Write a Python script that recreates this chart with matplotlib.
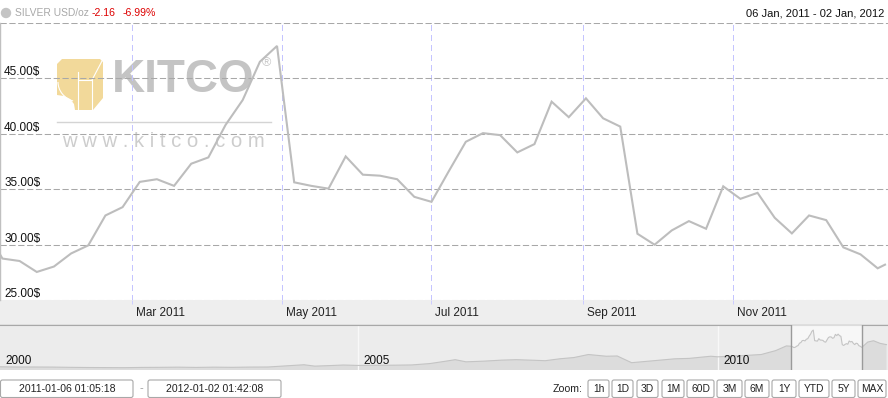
"""
Kitco silver chart (06 Jan 2011 - 02 Jan 2012), weekly closes plus the
long-range navigator strip underneath.
"""
import matplotlib
matplotlib.use("Agg")  # headless
import matplotlib.pyplot as plt
import matplotlib.transforms as mtransforms
from matplotlib.patches import Rectangle, FancyBboxPatch, Polygon, Circle, Arc
import pandas as pd

plt.rcParams["font.family"] = ["Liberation Sans", "DejaVu Sans"]

W, H = 888, 398  # output size in pixels

# ---- main series: silver USD/oz ------------------------------------------
dates = [
    "2011-01-06", "2011-01-07", "2011-01-14", "2011-01-21", "2011-01-28",
    "2011-02-04", "2011-02-11", "2011-02-18", "2011-02-25",
    "2011-03-04", "2011-03-11", "2011-03-18", "2011-03-25",
    "2011-04-01", "2011-04-08", "2011-04-15", "2011-04-22", "2011-04-29",
    "2011-05-06", "2011-05-13", "2011-05-20", "2011-05-27",
    "2011-06-03", "2011-06-10", "2011-06-17", "2011-06-24",
    "2011-07-01", "2011-07-08", "2011-07-15", "2011-07-22", "2011-07-29",
    "2011-08-05", "2011-08-12", "2011-08-19", "2011-08-26",
    "2011-09-02", "2011-09-09", "2011-09-16", "2011-09-23", "2011-09-30",
    "2011-10-07", "2011-10-14", "2011-10-21", "2011-10-28",
    "2011-11-04", "2011-11-11", "2011-11-18", "2011-11-25",
    "2011-12-02", "2011-12-09", "2011-12-16", "2011-12-23", "2011-12-30",
    "2012-01-02",
]
prices = [
    29.12, 28.74, 28.52, 27.53, 28.02,
    29.20, 29.93, 32.63, 33.38,
    35.66, 35.90, 35.30, 37.30,
    37.87, 40.80, 43.05, 46.50, 47.93,
    35.62, 35.30, 35.05, 37.96,
    36.31, 36.22, 35.90, 34.31,
    33.86, 36.60, 39.28, 40.06, 39.88,
    38.32, 39.07, 42.90, 41.50,
    43.20, 41.40, 40.65, 30.98, 29.99,
    31.28, 32.12, 31.43, 35.26,
    34.13, 34.67, 32.42, 31.01,
    32.63, 32.21, 29.75, 29.12, 27.86,
    28.19,
]

y_ticks = [25, 30, 35, 40, 45, 50]
y_labels = ["25.00$", "30.00$", "35.00$", "40.00$", "45.00$", ""]
month_ticks = ["2011-03-01", "2011-05-01", "2011-07-01", "2011-09-01", "2011-11-01"]
month_labels = ["Mar 2011", "May 2011", "Jul 2011", "Sep 2011", "Nov 2011"]
x_start, x_end = "2011-01-06 00:00", "2012-01-03 05:00"

# ---- navigator: long-range history (decimal year, USD/oz) ---------------
nav_years = [
    2000.0, 2000.25, 2000.5, 2000.75, 2001.0, 2001.25, 2001.5, 2001.75,
    2002.0, 2002.25, 2002.5, 2002.75, 2003.0, 2003.25, 2003.5, 2003.75,
    2004.0, 2004.25, 2004.4, 2004.6, 2004.8, 2005.0, 2005.25, 2005.5,
    2005.75, 2006.0, 2006.2, 2006.35, 2006.5, 2006.75, 2007.0, 2007.2,
    2007.45, 2007.6, 2007.8, 2008.0, 2008.2, 2008.45, 2008.6, 2008.8,
    2009.0, 2009.2, 2009.4, 2009.6, 2009.9, 2010.0, 2010.2, 2010.4,
    2010.6, 2010.8, 2010.95,
]
nav_prices = [
    5.3, 5.0, 5.0, 4.9, 4.6, 4.4, 4.3, 4.2,
    4.5, 4.6, 4.8, 4.5, 4.8, 4.6, 4.9, 5.0,
    6.3, 7.6, 6.0, 6.6, 7.3, 6.8, 7.0, 7.1,
    7.4, 9.0, 11.5, 13.5, 11.0, 11.8, 13.0, 13.5,
    12.8, 12.3, 14.5, 16.0, 19.5, 17.5, 17.8, 10.0,
    11.5, 13.0, 14.5, 15.0, 17.5, 16.8, 17.8, 18.5,
    19.5, 24.0, 29.5,
]
tail_years = [2012.08, 2012.16, 2012.25, 2012.34]
tail_prices = [34.0, 35.5, 32.5, 31.0]
nav_year_labels = [2000, 2005, 2010]

zoom_buttons = ["1h", "1D", "3D", "1M", "60D", "3M", "6M", "1Y", "YTD", "5Y", "MAX"]


def fig_rect(x0, y0, x1, y1):
    """pixel box (top-left origin) -> figure fraction rect"""
    return [x0 / W, 1 - y1 / H, (x1 - x0) / W, (y1 - y0) / H]


def to_year(ts):
    start = pd.Timestamp(year=ts.year, month=1, day=1)
    return ts.year + (ts - start).days / 365.0


fig = plt.figure(figsize=(W / 100, H / 100), dpi=100, facecolor="white")

# ---- chrome layer in pixel coordinates -----------------------------------
ui = fig.add_axes([0, 0, 1, 1], zorder=0)
ui.set_xlim(0, W)
ui.set_ylim(H, 0)
ui.axis("off")

ui.add_patch(Circle((6, 13), 4.5, color="#c4c4c4"))
ui.text(15, 13, "SILVER USD/oz", color="#a8a8a8", fontsize=7.4, va="center")
ui.text(92, 13, "-2.16", color="#dd0000", fontsize=7.6, va="center")
ui.text(123, 13, "-6.99%", color="#dd0000", fontsize=7.6, va="center")
ui.text(884, 13, "06 Jan, 2011 - 02 Jan, 2012", color="#111111", fontsize=8,
        va="center", ha="right")

# watermark
gold = "#f2d99a"
logo = Polygon([(62, 59), (100, 59), (103, 62), (103, 98), (93, 110), (75, 110),
                (74, 104), (70, 99), (64, 96), (57, 95), (57, 64)],
               closed=True, fc=gold, ec="none", zorder=1)
ui.add_patch(logo)
ui.add_patch(Arc((80, 82), 44, 40, theta1=110, theta2=180, color="white", lw=0.8, zorder=1))
ui.plot([78, 78], [72, 110], color="white", lw=0.8, zorder=1)
ui.plot([92, 92], [80, 110], color="white", lw=0.8, zorder=1)
ui.plot([78, 92], [80, 80], color="white", lw=0.8, zorder=1)
ui.plot([92, 102], [80, 61], color="white", lw=0.8, zorder=1)
ui.text(112, 92, "KITCO", fontsize=33, fontweight="bold", color="#c4c4c4",
        va="baseline", ha="left", zorder=1)
ui.text(262, 63, "®", fontsize=9, color="#c8c8c8", va="center", zorder=1)
ui.plot([57, 271], [122, 122], color="#d4d4d4", lw=1, zorder=1)
ui.text(62, 147, "w w w . k i t c o . c o m", fontsize=14.6, color="#cdcdcd",
        va="baseline", ha="left", zorder=1)

# date band under the plot
ui.add_patch(Rectangle((0, 300), W, 24.5, fc="#eeeeee", ec="none"))
ui.plot([0, W], [324.5, 324.5], color="#b4b4b4", lw=1)


# bottom controls
def box(x0, x1, label, size):
    ui.add_patch(FancyBboxPatch((x0, 380), x1 - x0, 17.5,
                                boxstyle="round,pad=0,rounding_size=2",
                                fc="white", ec="#a8a8a8", lw=0.8))
    ui.text((x0 + x1) / 2, 389, label, fontsize=size, color="#222222",
            ha="center", va="center")


box(0.5, 133, "2011-01-06 01:05:18", 7.6)
box(148, 281, "2012-01-02 01:42:08", 7.6)
ui.text(141, 388, "-", fontsize=8, color="#999999", ha="center", va="center")
ui.text(553, 389, "Zoom:", fontsize=7.6, color="#222222", va="center")
btn_edges = [(588, 609), (612, 633), (637, 658), (662, 684), (687, 714), (717, 742),
             (745, 769), (772, 796), (799, 829), (832, 855), (858, 886)]
for (bx0, bx1), lab in zip(btn_edges, zoom_buttons):
    box(bx0, bx1, lab, 7.4)

# ---- main price axes -------------------------------------------------------
ax = fig.add_axes(fig_rect(0, 23, W, 300), zorder=2)
ax.set_facecolor("none")
x = pd.to_datetime(dates)
ax.plot(x, prices, color="#bdbdbd", lw=1.5, solid_joinstyle="miter", zorder=3)
ax.set_xlim(pd.Timestamp(x_start), pd.Timestamp(x_end))
ax.set_ylim(25, 50)

ax.set_yticks(y_ticks)
ax.set_yticklabels(y_labels)
ax.tick_params(axis="y", length=0, pad=-3, labelsize=8.5, labelcolor="#111111")
for lab in ax.get_yticklabels():
    lab.set_horizontalalignment("left")
    lab.set_verticalalignment("bottom")
ax.grid(axis="y", color="#a8a8a8", lw=0.75, linestyle=(0, (6, 2.5)))

ax.set_xticks(pd.to_datetime(month_ticks))
ax.set_xticklabels(month_labels)
ax.tick_params(axis="x", length=3, width=0.7, color="#ccccff", pad=2,
               labelsize=8.5, labelcolor="#222222")
shift = mtransforms.ScaledTranslation(4 / 100, 0, fig.dpi_scale_trans)
for lab in ax.get_xticklabels():
    lab.set_horizontalalignment("left")
    lab.set_transform(lab.get_transform() + shift)
ax.grid(axis="x", color="#c4c4ff", lw=0.8, linestyle=(0, (5, 4)))
for gl in ax.get_xgridlines():
    gl.set_antialiased(False)

for side in ("top", "right", "bottom"):
    ax.spines[side].set_visible(False)
ax.spines["left"].set_color("#c0c0c0")
ax.spines["left"].set_linewidth(1.0)

# ---- navigator ------------------------------------------------------------
nav = fig.add_axes(fig_rect(0, 325, W, 370), zorder=2)
nav.set_facecolor("#ececec")
main_years = [to_year(t) for t in x]
all_years = nav_years + main_years + tail_years
all_prices = nav_prices + prices + tail_prices
nav.fill_between(all_years, all_prices, 0, color="#dcdcdc", lw=0, zorder=1)
nav.plot(all_years, all_prices, color="#c4c4c4", lw=0.8, zorder=4)
nav_x0 = 2000.0 + 2 / 72
nav.set_xlim(nav_x0, nav_x0 + W / 72)
nav.set_ylim(1.5, 53.8)
nav.set_xticks([])
nav.set_yticks([])
for side in ("left", "right", "bottom"):
    nav.spines[side].set_visible(False)
nav.spines["top"].set_color("#a8a8a8")

win0, win1 = main_years[0], main_years[-1]
nav.axvspan(win0, win1, color="white", alpha=0.6, lw=0, zorder=3)
for wx in (win0, win1):
    nav.axvline(wx, color="#9a9a9a", lw=1, zorder=5)

year_tf = mtransforms.blended_transform_factory(nav.transData, nav.transAxes)
lab_shift = mtransforms.ScaledTranslation(5 / 100, 0, fig.dpi_scale_trans)
for yr in nav_year_labels:
    if yr > 2000:
        nav.axvline(yr, color="#f8f8f8", lw=1, zorder=2)
    nav.text(max(yr, nav_x0), 0.19, str(yr), transform=year_tf + lab_shift,
             fontsize=8.5, color="#111111", va="center", ha="left", zorder=6,
             clip_on=False)

ui.add_patch(Polygon([(10, 335), (10, 347), (19.5, 341)], closed=True, fc="black"))

fig.savefig("out.png", dpi=100)
